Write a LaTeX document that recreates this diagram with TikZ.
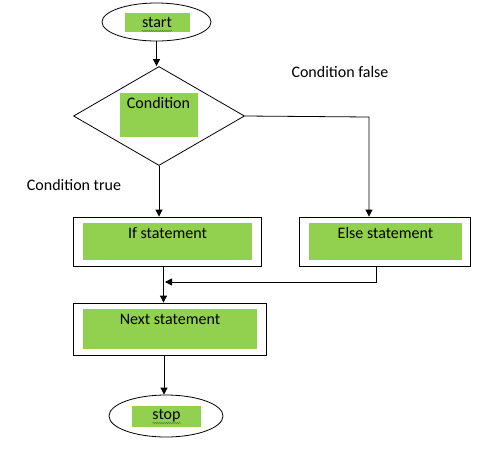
\documentclass[tikz,border=0pt]{standalone}
\usepackage{fontspec}
\setmainfont{Carlito}
\usetikzlibrary{shapes.geometric,arrows.meta,decorations.pathmorphing}
\definecolor{wgreen}{HTML}{92D050}
\definecolor{squig}{HTML}{4F8A2E}
\begin{document}
\begin{tikzpicture}[x=1pt,y=-1pt,
  outline/.style={draw=black,line width=0.8pt,inner sep=0pt,fill=white},
  greenbox/.style={rectangle,fill=wgreen,inner sep=0pt},
  lbl/.style={inner sep=0pt,font=\fontsize{16}{19}\selectfont},
  conn/.style={draw=black,line width=0.8pt},
  arr/.style={conn,-{Triangle[width=7pt,length=7pt]}},
  squiggle/.style={draw=squig,line width=0.5pt,decorate,decoration={snake,amplitude=0.7pt,segment length=2.2pt}}]
\useasboundingbox (0,0) rectangle (488,456);
% start
\node[outline,ellipse,minimum width=109pt,minimum height=38pt] (start) at (156.5,22) {};
\node[greenbox,minimum width=65pt,minimum height=19pt] (startg) at (157.5,22.5) {};
\node[lbl] (startt) at (157,22) {start};
\draw[squiggle] ([xshift=-15pt,yshift=-9pt]startt.center) -- ([xshift=15pt,yshift=-9pt]startt.center);
% condition
\node[outline,diamond,minimum width=171pt,minimum height=99pt] (cond) at (159,116) {};
\node[greenbox,minimum width=78pt,minimum height=44pt] (condg) at (159,115) {};
\node[lbl] (condt) at (158.5,103) {Condition};
% if
\node[outline,rectangle,minimum width=188pt,minimum height=49pt] (ifb) at (167,241.5) {};
\node[greenbox,minimum width=169pt,minimum height=37pt] (ifg) at (167.5,241.5) {};
\node[lbl] (ift) at (167.5,233) {If statement};
% else
\node[outline,rectangle,minimum width=171pt,minimum height=49pt] (elseb) at (384.5,241.5) {};
\node[greenbox,minimum width=153pt,minimum height=37pt] (elseg) at (385.5,241.5) {};
\node[lbl] (elset) at (385.5,233) {Else statement};
% next
\node[outline,rectangle,minimum width=193pt,minimum height=52pt] (next) at (169.5,329) {};
\node[greenbox,minimum width=174pt,minimum height=40pt] (nextg) at (170,329) {};
\node[lbl] (nextt) at (170,319) {Next statement};
% stop
\node[outline,ellipse,minimum width=114pt,minimum height=42pt] (stop) at (166,416) {};
\node[greenbox,minimum width=69pt,minimum height=21pt] (stopg) at (166.5,416.5) {};
\node[lbl] (stopt) at (166.5,416) {stop};
\draw[squiggle] ([xshift=-14pt,yshift=-7pt]stopt.center) -- ([xshift=14pt,yshift=-7pt]stopt.center);
% labels
\node[lbl] (falsel) at (340,72) {Condition false};
\node[lbl] (truel) at (74,185) {Condition true};
% connectors
\draw[arr] (start.south) -- (start.south |- cond.north);
\draw[arr] (cond.south) -- (cond.south |- ifb.north);
\coordinate (fc) at (369,117);
\draw[arr] (cond.east) -- (fc) -- (fc |- elseb.north);
\coordinate (ifo) at (163.5,266);
\draw[arr] (ifo) -- (ifo |- next.north);
\coordinate (elo) at (376,266);
\coordinate (join) at (165,282);
\draw[arr] (elo) |- (join);
\coordinate (nxo) at (164,355);
\draw[arr] (nxo) -- (nxo |- stop.north);
\end{tikzpicture}
\end{document}
